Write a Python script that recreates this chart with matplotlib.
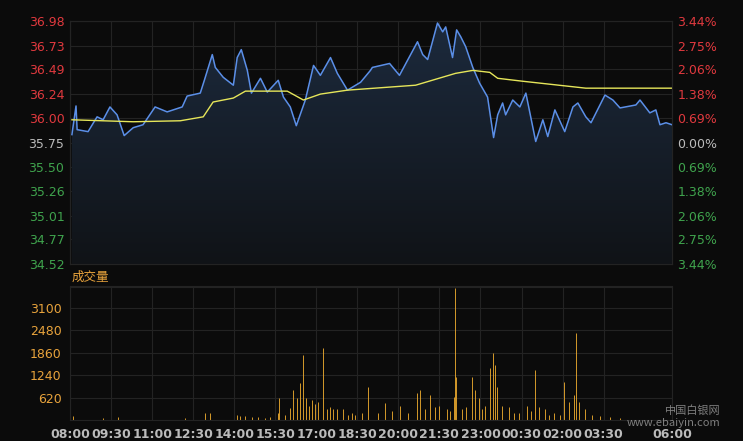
import matplotlib
matplotlib.use("Agg")
import matplotlib.pyplot as plt
import numpy as np
from matplotlib.colors import LinearSegmentedColormap

plt.rcParams['font.family'] = ['DejaVu Sans', 'Noto Sans CJK SC']

price_h = [0.07,0.22,0.26,0.66,0.99,1.21,1.46,1.72,1.98,2.31,2.67,3.11,3.55,4.10,4.28,4.76,4.91,5.20,5.31,5.60,5.97,6.11,6.26,6.48,6.63,6.96,7.21,7.61,7.80,8.05,8.27,8.60,8.90,9.15,9.52,9.77,10.14,10.62,10.98,11.05,11.68,12.04,12.70,12.89,13.07,13.43,13.62,13.73,13.98,14.13,14.28,14.46,14.72,14.97,15.26,15.48,15.63,15.81,15.92,16.18,16.44,16.66,17.02,17.28,17.46,17.72,18.08,18.38,18.56,18.85,19.04,19.55,19.84,20.10,20.68,20.83,21.19,21.41,21.56,21.78,22.00]
price = [35.83,36.12,35.88,35.86,36.01,35.98,36.11,36.03,35.82,35.90,35.93,36.11,36.06,36.11,36.22,36.25,36.38,36.64,36.51,36.41,36.33,36.61,36.69,36.48,36.25,36.40,36.26,36.38,36.21,36.11,35.92,36.18,36.53,36.43,36.61,36.45,36.28,36.36,36.48,36.51,36.55,36.43,36.77,36.64,36.59,36.96,36.87,36.92,36.61,36.89,36.82,36.72,36.51,36.35,36.21,35.80,36.03,36.15,36.03,36.18,36.11,36.25,35.76,35.98,35.81,36.08,35.86,36.11,36.15,36.01,35.95,36.23,36.18,36.10,36.13,36.18,36.05,36.08,35.93,35.95,35.93]

avg_h = [0.07,2.31,4.03,4.87,5.23,5.97,6.41,7.94,8.53,9.15,10.14,12.63,14.09,14.72,15.34,15.63,16.55,18.85,22.0]
avg = [35.98,35.96,35.97,36.01,36.16,36.20,36.27,36.27,36.18,36.24,36.28,36.33,36.45,36.48,36.46,36.40,36.37,36.30,36.30]

vol_px = [73,103,118,185,205,210,237,240,245,252,258,265,270,278,279,285,290,293,297,300,303,306,309,312,315,318,323,327,330,333,337,343,348,352,355,362,368,378,385,392,400,408,417,420,425,430,435,439,447,450,454,455,456,462,466,472,475,479,482,485,490,493,495,497,502,509,514,519,527,531,535,539,545,549,554,560,564,569,574,576,579,585,592,600,610,620]
vol = [100,50,80,50,190,180,150,100,120,80,90,60,70,200,600,150,330,830,600,1020,1790,600,400,550,450,500,1990,300,350,300,300,300,150,200,150,200,910,200,470,250,400,200,740,830,300,700,350,400,300,250,640,3640,1190,300,350,1190,830,600,300,400,1430,1850,1520,910,400,350,200,200,400,250,1380,350,300,150,200,150,1050,500,700,2400,500,300,150,100,80,60]
vol_h = [(x - 70) * 22 / 602 for x in vol_px]

xtick_h = [0,1.5,3,4.5,6,7.5,9,10.5,12,13.5,15,16.5,18,19.5,22]
xtick_lbl = ["08:00","09:30","11:00","12:30","14:00","15:30","17:00","18:30","20:00","21:30","23:00","00:30","02:00","03:30","06:00"]
ptick = [36.98,36.73,36.49,36.24,36.00,35.75,35.50,35.26,35.01,34.77,34.52]
pct_lbl = ["3.44%","2.75%","2.06%","1.38%","0.69%","0.00%","0.69%","1.38%","2.06%","2.75%","3.44%"]
vtick = [620,1240,1860,2480,3100]

bg = '#0b0b0b'; grid = '#232323'
red = '#e0393e'; green = '#3fa34d'; orange = '#e8a33c'
fig = plt.figure(figsize=(7.43, 4.41), dpi=100, facecolor=bg)
ax = fig.add_axes([70/743, 1-264/441, 602/743, 243/441], facecolor=bg)
ax.set_xlim(0, 22); ax.set_ylim(34.52, 36.98)
for y in ptick: ax.axhline(y, color=grid, lw=0.8, zorder=0)
for x in xtick_h: ax.axvline(x, color=grid, lw=0.8, zorder=0)
poly = ax.fill_between(price_h, price, 34.52, color='none')
grad = np.linspace(0, 1, 256).reshape(-1, 1)
cm = LinearSegmentedColormap.from_list('g', ['#101317', '#1c2a3d'])
im = ax.imshow(grad, extent=[0, 22, 34.52, 36.98], origin='lower', aspect='auto', cmap=cm, zorder=1)
im.set_clip_path(poly.get_paths()[0], transform=ax.transData)
ax.plot(price_h, price, color='#5b8fe8', lw=1.1, zorder=3)
ax.plot(avg_h, avg, color='#e6e65a', lw=1.0, zorder=3)
ax.set_yticks(ptick)
ax.set_yticklabels([f"{v:.2f}" for v in ptick], fontsize=9)
for t, v in zip(ax.get_yticklabels(), ptick):
    t.set_color(red if v > 35.76 else (green if v < 35.74 else '#bbbbbb'))
ax.set_xticks([])
ax.tick_params(axis='y', length=0, pad=4)
for s in ax.spines.values(): s.set_color(grid)
ax2 = ax.twinx()
ax2.set_ylim(34.52, 36.98); ax2.set_yticks(ptick)
ax2.set_yticklabels(pct_lbl, fontsize=9)
for t, v in zip(ax2.get_yticklabels(), ptick):
    t.set_color(red if v > 35.76 else (green if v < 35.74 else '#bbbbbb'))
ax2.tick_params(axis='y', length=0, pad=4)
for s in ax2.spines.values(): s.set_color(grid)

fig.text(72/743, 1-277/441, "成交量", color=orange, fontsize=9, va='center', family=['Noto Sans CJK SC'])
fig.add_artist(plt.Line2D([70/743, 672/743], [1-286/441]*2, color=grid, lw=0.8))

vx = fig.add_axes([70/743, 1-420/441, 602/743, 133/441], facecolor=bg)
vx.set_xlim(0, 22); vx.set_ylim(0, 3670)
for y in vtick: vx.axhline(y, color=grid, lw=0.8, zorder=0)
for x in xtick_h: vx.axvline(x, color=grid, lw=0.8, zorder=0)
vx.bar(vol_h, vol, width=0.03, color='#f5b030', edgecolor='#f5b030', linewidth=0.6, zorder=2)
vx.set_yticks(vtick); vx.set_yticklabels([str(v) for v in vtick], fontsize=9, color=orange)
vx.set_xticks(xtick_h); vx.set_xticklabels(xtick_lbl, fontsize=9, color='#bbbbbb', fontweight='bold')
vx.tick_params(length=0, pad=6)
for s in vx.spines.values(): s.set_color(grid)
fig.text(0.97, 0.03, "中国白银网\nwww.ebaiyin.com", color='#cccccc', alpha=0.6, fontsize=8, ha='right', va='bottom', family=['Noto Sans CJK SC', 'DejaVu Sans'])
fig.savefig("out.png", dpi=100, facecolor=bg)
